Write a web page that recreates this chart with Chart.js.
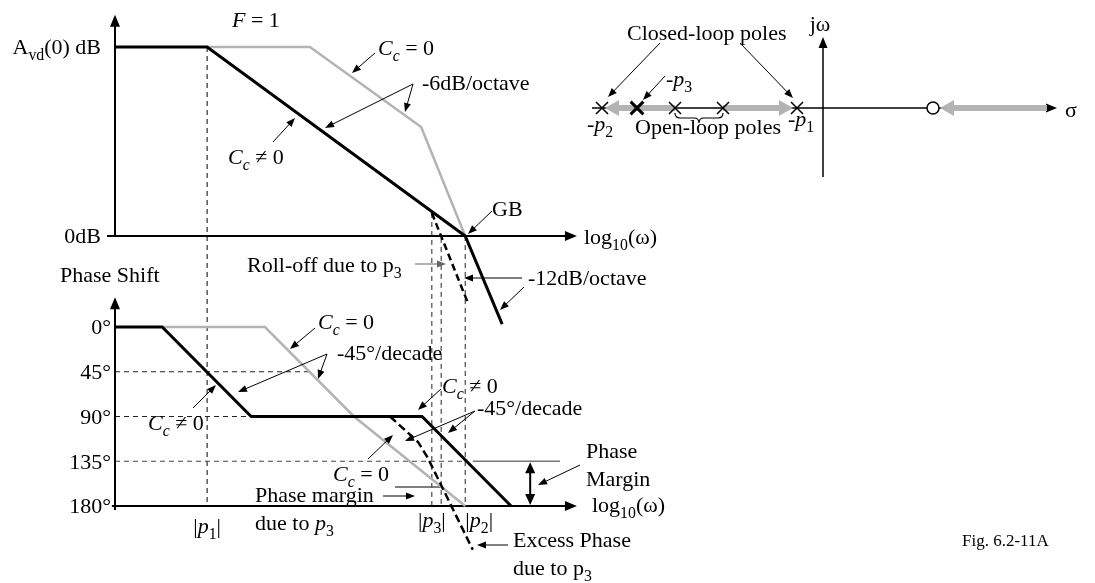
<!DOCTYPE html>
<html>
<head>
<meta charset="utf-8">
<script src="https://cdn.jsdelivr.net/npm/chart.js@4.4.0/dist/chart.umd.min.js"></script>
<style>
  html, body { margin: 0; padding: 0; background: #fff; }
  canvas { display: block; }
</style>
</head>
<body>
<canvas id="bode" width="1095" height="583"></canvas>
<script>
// Frequency in decades from the origin, magnitude normalised so A_vd(0) = 1, 0dB = 0
const freqP1 = 2.07;
const freqP3 = 7.12;
const freqP3Roll = 7.33;
const freqGB = 7.87;

const magCompX = [0, 2.07, 7.87, 8.70];
const magCompY = [1, 1, 0, -0.466];
const magUncompX = [2.07, 4.38, 6.88, 7.87];
const magUncompY = [1, 1, 0.577, 0];
const magP3X = [7.12, 7.93];
const magP3Y = [0.122, -0.354];
const magTicks = [1, 0];

// Phase shift in degrees
const phaseCompX = [0, 1.06, 3.06, 6.90, 8.90];
const phaseCompY = [0, 0, 90, 90, 180];
const phaseUncompX = [1.06, 3.37, 5.37, 7.87];
const phaseUncompY = [0, 0, 90, 180];
const phaseP3X = [6.18, 6.81, 7.03, 8.04];
const phaseP3Y = [90, 115.6, 131.7, 224];
const phaseTicks = [0, 45, 90, 135, 180];
const phaseMarginAt = 9.33;

// s-plane: poles, zero and locus branches (sigma axis)
const polesSigma = [-22.1, -14.8, -10.0, -2.6];
const poleP3Sigma = [-18.6];
const zeroSigma = [11.0];
const locusFrom = [-14.8, -10.0, 22.4];
const locusTo = [-21.8, -3.0, 11.7];

const W = 1095, H = 583;
const FONT = 22;
const FAMILY = '"Liberation Serif", "Times New Roman", serif';
const GRAY = '#b3b3b3';

const pts = (xs, ys) => xs.map((x, i) => ({ x: x, y: ys[i] }));
const onAxis = xs => xs.map(x => ({ x: x, y: 0 }));

// scale range so that value 0 sits at `origin` px with `per` px for one unit
function spanFwd(origin, per, len) {
    const min = -origin / per;
    return { min: min, max: min + len / per };
}
function spanUp(origin, per, len) {
    const max = origin / per;
    return { min: max - len / per, max: max };
}

const bodeX = spanFwd(115, 44.5, W);
const magY = spanUp(236, 189, H);
const phaseY = spanFwd(327, 179 / 180, H);
const sigmaX = spanFwd(823, 10, W);
const jwY = spanUp(108, 10, H);

function rich(ctx, runs, x, y, align, size) {
    size = size || FONT;
    const parts = runs.map(r => {
        const t = r[0], f = r[1] || '';
        const sub = f.indexOf('s') >= 0;
        const sz = sub ? size * 0.72 : size;
        const font = (f.indexOf('i') >= 0 ? 'italic ' : '') + sz.toFixed(1) + 'px ' + FAMILY;
        ctx.font = font;
        return { t: t, font: font, w: ctx.measureText(t).width, dy: sub ? size * 0.28 : 0 };
    });
    const total = parts.reduce((s, p) => s + p.w, 0);
    let cx = align === 'right' ? x - total : align === 'center' ? x - total / 2 : x;
    const base = y + size * 0.33;
    ctx.textAlign = 'left';
    ctx.textBaseline = 'alphabetic';
    ctx.fillStyle = '#000';
    parts.forEach(p => {
        ctx.font = p.font;
        ctx.fillText(p.t, cx, base + p.dy);
        cx += p.w;
    });
}

function head(ctx, x1, y1, x2, y2, len, half, color) {
    const a = Math.atan2(y2 - y1, x2 - x1);
    ctx.save();
    ctx.fillStyle = color || '#000';
    ctx.translate(x2, y2);
    ctx.rotate(a);
    ctx.beginPath();
    ctx.moveTo(0, 0);
    ctx.lineTo(-len, -half);
    ctx.lineTo(-len, half);
    ctx.closePath();
    ctx.fill();
    ctx.restore();
}

function line(ctx, x1, y1, x2, y2, width, color, dash) {
    ctx.save();
    ctx.strokeStyle = color || '#000';
    ctx.lineWidth = width || 1;
    ctx.setLineDash(dash || []);
    ctx.beginPath();
    ctx.moveTo(x1, y1);
    ctx.lineTo(x2, y2);
    ctx.stroke();
    ctx.restore();
}

function arrow(ctx, x1, y1, x2, y2, opts) {
    opts = opts || {};
    const len = opts.len || 9, half = opts.half || 3.5;
    const a = Math.atan2(y2 - y1, x2 - x1);
    line(ctx, x1, y1, x2 - Math.cos(a) * len * 0.8, y2 - Math.sin(a) * len * 0.8, opts.width || 1, opts.color);
    head(ctx, x1, y1, x2, y2, len, half, opts.color);
}

const CC = [['C', 'i'], ['c', 'is']];

function openLoop(i) { return polesSigma[1 + i]; }

// axes, guides and the locus branches sit underneath the curves
const backdrop = {
    id: 'backdrop',
    beforeDatasetsDraw(chart) {
        const ctx = chart.ctx;
        const s = chart.scales;
        const X = v => s.bode.getPixelForValue(v);
        const M = v => s.mag.getPixelForValue(v);
        const P = v => s.phase.getPixelForValue(v);
        const S = v => s.sigma.getPixelForValue(v);
        const J = v => s.jw.getPixelForValue(v);
        const dash = [5, 4];

        // dashed frequency markers running through both plots
        line(ctx, X(freqP1), M(1), X(freqP1), P(180), 1, '#000', dash);
        line(ctx, X(freqP3), M(magP3Y[0]), X(freqP3), P(180), 1, '#222', dash);
        line(ctx, X(freqP3Roll), M(-0.01), X(freqP3Roll), P(180), 1, '#222', dash);
        line(ctx, X(freqGB), M(0), X(freqGB), P(180), 1, '#222', dash);

        // phase reference levels
        line(ctx, X(0), P(45), X(4.43), P(45), 1, '#222', dash);
        line(ctx, X(0), P(90), X(phaseCompX[2]), P(90), 1, '#222', dash);
        line(ctx, X(0), P(135), X(freqGB), P(135), 1, '#444', dash);
        line(ctx, X(8.04), P(135), X(10.0), P(135), 1.5, '#777');
        line(ctx, X(6.29), P(161), X(7.35), P(161), 1.5, '#555');

        // magnitude axes
        line(ctx, X(0), M(-0.005), X(0), M(1.12), 2);
        head(ctx, X(0), M(0), X(0), M(1.17), 12, 5);
        line(ctx, X(-0.18), M(0), X(10.2), M(0), 2);
        head(ctx, X(0), M(0), X(10.38), M(0), 12, 5);

        // phase axes
        line(ctx, X(0), P(184), X(0), P(-25), 2);
        head(ctx, X(0), P(0), X(0), P(-30), 12, 5);
        line(ctx, X(-0.07), P(180), X(10.2), P(180), 2);
        head(ctx, X(0), P(180), X(10.38), P(180), 12, 5);

        // s-plane axes
        line(ctx, S(-23.1), J(0), S(22.6), J(0), 1.5);
        head(ctx, S(0), J(0), S(23.4), J(0), 11, 4.5);
        line(ctx, S(0), J(-6.9), S(0), J(6.4), 1.5);
        head(ctx, S(0), J(0), S(0), J(7.1), 11, 4.5);

        // root-locus branches
        locusFrom.forEach((from, i) => {
            const x1 = S(from), x2 = S(locusTo[i]), y = J(0);
            const dir = Math.sign(x2 - x1);
            line(ctx, x1, y, x2 - dir * 12, y, 6, GRAY);
            head(ctx, x1, y, x2, y, 14, 8, GRAY);
        });

        // brace under the open-loop poles
        const b1 = S(openLoop(0)), b2 = S(openLoop(1)), mid = (b1 + b2) / 2, y0 = J(0) + 5;
        ctx.save();
        ctx.strokeStyle = '#000';
        ctx.lineWidth = 1.2;
        ctx.beginPath();
        ctx.moveTo(b1, y0);
        ctx.quadraticCurveTo(b1, y0 + 5, b1 + 5, y0 + 5);
        ctx.lineTo(mid - 5, y0 + 5);
        ctx.quadraticCurveTo(mid, y0 + 5, mid, y0 + 10);
        ctx.quadraticCurveTo(mid, y0 + 5, mid + 5, y0 + 5);
        ctx.lineTo(b2 - 5, y0 + 5);
        ctx.quadraticCurveTo(b2, y0 + 5, b2, y0);
        ctx.stroke();
        ctx.restore();
    }
};

// labels and leader arrows
const labels = {
    id: 'labels',
    afterDatasetsDraw(chart) {
        const ctx = chart.ctx;
        const s = chart.scales;
        const X = v => s.bode.getPixelForValue(v);
        const M = v => s.mag.getPixelForValue(v);
        const P = v => s.phase.getPixelForValue(v);

        // magnitude plot
        rich(ctx, [['A'], ['vd', 's'], ['(0) dB']], X(0) - 14, M(magTicks[0]), 'right');
        rich(ctx, [['0dB']], X(0) - 14, M(magTicks[1]), 'right');
        rich(ctx, [['F', 'i'], [' = 1']], 232, 20);
        rich(ctx, CC.concat([[' = 0']]), 378, 48);
        arrow(ctx, 375, 53, 352, 73);
        rich(ctx, [['-6dB/octave']], 422, 83);
        arrow(ctx, 413, 84, 405, 112);
        arrow(ctx, 413, 84, 325, 128);
        rich(ctx, CC.concat([[' \u2260 0']]), 228, 157);
        arrow(ctx, 273, 142, 295, 118);
        rich(ctx, [['GB']], 492, 209);
        arrow(ctx, 492, 211, 468, 234);
        rich(ctx, [['log'], ['10', 's'], ['(\u03c9)']], 584, 237);
        rich(ctx, [['Roll-off due to p'], ['3', 's']], 247, 265);
        arrow(ctx, 415, 264, 446, 264, { color: '#666' });
        rich(ctx, [['-12dB/octave']], 528, 278);
        arrow(ctx, 522, 278, 464, 278);
        arrow(ctx, 524, 287, 500, 310);

        // phase plot
        rich(ctx, [['Phase Shift']], 60, 275);
        phaseTicks.forEach(t => rich(ctx, [[t + '\u00b0']], X(0) - 4, P(t), 'right'));
        rich(ctx, CC.concat([[' = 0']]), 318, 322);
        arrow(ctx, 315, 328, 290, 349);
        rich(ctx, [['-45\u00b0/decade']], 337, 353);
        arrow(ctx, 327, 354, 318, 379);
        arrow(ctx, 327, 354, 238, 392);
        rich(ctx, CC.concat([[' \u2260 0']]), 148, 423);
        arrow(ctx, 193, 408, 216, 385);
        rich(ctx, CC.concat([[' \u2260 0']]), 442, 386);
        arrow(ctx, 441, 389, 418, 410);
        rich(ctx, [['-45\u00b0/decade']], 477, 408);
        arrow(ctx, 475, 411, 448, 433);
        arrow(ctx, 475, 411, 405, 441);
        rich(ctx, CC.concat([[' = 0']]), 333, 474);
        arrow(ctx, 368, 459, 393, 435);
        rich(ctx, [['Phase margin']], 255, 495);
        arrow(ctx, 383, 496, 415, 496);
        rich(ctx, [['due to '], ['p', 'i'], ['3', 's']], 255, 523);
        rich(ctx, [['|'], ['p', 'i'], ['1', 's'], ['|']], X(freqP1), 526, 'center');
        rich(ctx, [['|'], ['p', 'i'], ['3', 's'], ['|']], X(freqP3), 520, 'center');
        rich(ctx, [['|'], ['p', 'i'], ['2', 's'], ['|']], X(freqGB) + 14, 520, 'center');

        // phase margin span
        const xm = X(phaseMarginAt);
        line(ctx, xm, P(135) + 9, xm, P(180) - 9, 2);
        head(ctx, xm, P(157), xm, P(135) + 1, 11, 5);
        head(ctx, xm, P(157), xm, P(180) - 1, 11, 5);
        rich(ctx, [['Phase']], 586, 451);
        rich(ctx, [['Margin']], 586, 479);
        arrow(ctx, 580, 465, 538, 485);
        rich(ctx, [['log'], ['10', 's'], ['(\u03c9)']], 592, 505);
        rich(ctx, [['Excess Phase']], 513, 540);
        rich(ctx, [['due to p'], ['3', 's']], 513, 568);
        arrow(ctx, 508, 545, 477, 545);

        // s-plane
        rich(ctx, [['Closed-loop poles']], 627, 33);
        arrow(ctx, 660, 43, 608, 97);
        arrow(ctx, 740, 43, 793, 98);
        rich(ctx, [['j\u03c9']], 820, 24, 'center');
        rich(ctx, [['-'], ['p', 'i'], ['3', 's']], 666, 79);
        arrow(ctx, 665, 76, 643, 100);
        rich(ctx, [['-'], ['p', 'i'], ['2', 's']], 587, 124);
        rich(ctx, [['Open-loop poles']], 635, 127);
        rich(ctx, [['-'], ['p', 'i'], ['1', 's']], 788, 119);
        rich(ctx, [['\u03c3']], 1065, 110);

        rich(ctx, [['Fig. 6.2-11A']], 962, 540, 'left', 17);
    }
};

const lineSet = (data, color, width, dash, y, order) => ({
    data: data,
    xAxisID: 'bode',
    yAxisID: y,
    showLine: true,
    borderColor: color,
    borderWidth: width,
    borderDash: dash || [],
    borderJoinStyle: 'miter',
    pointRadius: 0,
    fill: false,
    order: order
});

new Chart(document.getElementById('bode'), {
    type: 'scatter',
    data: {
        datasets: [
            lineSet(pts(magUncompX, magUncompY), GRAY, 2.5, null, 'mag', 5),
            lineSet(pts(magCompX, magCompY), '#000', 3, null, 'mag', 3),
            lineSet(pts(magP3X, magP3Y), '#000', 2.5, [7, 4], 'mag', 4),
            lineSet(pts(phaseUncompX, phaseUncompY), GRAY, 2.5, null, 'phase', 5),
            lineSet(pts(phaseCompX, phaseCompY), '#000', 3, null, 'phase', 3),
            lineSet(pts(phaseP3X, phaseP3Y), '#000', 2.5, [8, 4], 'phase', 4),
            {
                data: onAxis(polesSigma),
                xAxisID: 'sigma', yAxisID: 'jw',
                pointStyle: 'crossRot', pointRadius: 8.5, borderWidth: 1.5,
                borderColor: '#000', order: 1
            },
            {
                data: onAxis(poleP3Sigma),
                xAxisID: 'sigma', yAxisID: 'jw',
                pointStyle: 'crossRot', pointRadius: 9, borderWidth: 3,
                borderColor: '#000', order: 1
            },
            {
                data: onAxis(zeroSigma),
                xAxisID: 'sigma', yAxisID: 'jw',
                pointStyle: 'circle', pointRadius: 6, borderWidth: 1.5,
                borderColor: '#000', backgroundColor: '#fff', order: 1
            }
        ]
    },
    options: {
        responsive: false,
        animation: false,
        events: [],
        layout: { padding: 0, autoPadding: false },
        plugins: { legend: { display: false }, tooltip: { enabled: false } },
        scales: {
            bode: { type: 'linear', axis: 'x', display: false, min: bodeX.min, max: bodeX.max },
            mag: { type: 'linear', axis: 'y', display: false, min: magY.min, max: magY.max },
            phase: { type: 'linear', axis: 'y', display: false, reverse: true, min: phaseY.min, max: phaseY.max },
            sigma: { type: 'linear', axis: 'x', display: false, min: sigmaX.min, max: sigmaX.max },
            jw: { type: 'linear', axis: 'y', display: false, min: jwY.min, max: jwY.max }
        }
    },
    plugins: [backdrop, labels]
});
</script>
</body>
</html>
